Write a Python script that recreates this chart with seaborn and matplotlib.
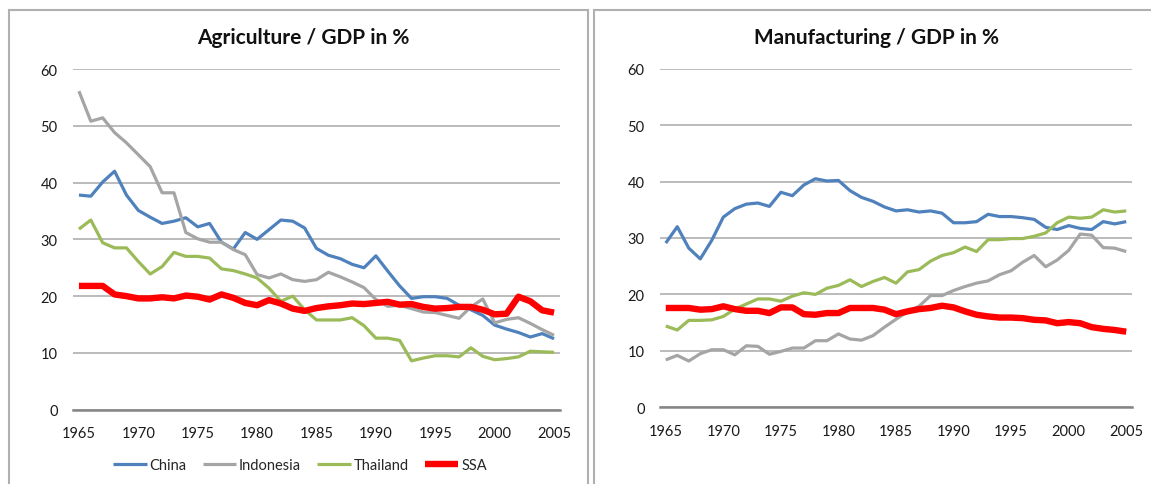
import matplotlib

matplotlib.use("Agg")
import matplotlib.pyplot as plt
import pandas as pd
import seaborn as sns
from matplotlib.patches import Rectangle

sns.set_theme(style="white")
plt.rcParams["font.family"] = ["Lato", "DejaVu Sans"]

YEARS = list(range(1965, 2006))

# Agriculture / GDP in %
AGR_CHINA = [37.8, 37.6, 40.1, 42.0, 37.8, 35.1, 33.9, 32.8, 33.2, 33.8,
             32.2, 32.8, 29.5, 28.3, 31.2, 30.0, 31.7, 33.4, 33.2, 32.0,
             28.4, 27.2, 26.6, 25.6, 25.0, 27.1, 24.4, 21.8, 19.6, 19.9,
             19.9, 19.6, 18.4, 17.6, 16.6, 14.9, 14.2, 13.6, 12.8, 13.4,
             12.5]
AGR_INDONESIA = [56.1, 50.8, 51.4, 48.8, 47.0, 44.9, 42.8, 38.2, 38.2, 31.2,
                 30.1, 29.5, 29.5, 28.2, 27.3, 23.8, 23.2, 23.9, 22.9, 22.6,
                 22.9, 24.2, 23.4, 22.5, 21.5, 19.4, 18.2, 18.4, 17.8, 17.2,
                 17.1, 16.6, 16.1, 18.1, 19.5, 15.3, 15.9, 16.2, 15.2, 14.1,
                 13.1]
AGR_THAILAND = [31.8, 33.4, 29.4, 28.5, 28.5, 26.1, 23.9, 25.2, 27.7, 27.0,
                27.0, 26.7, 24.8, 24.5, 23.9, 23.2, 21.4, 19.1, 20.0, 17.6,
                15.8, 15.8, 15.8, 16.2, 14.8, 12.6, 12.6, 12.2, 8.6, 9.1,
                9.5, 9.5, 9.3, 10.9, 9.4, 8.8, 9.0, 9.3, 10.3, 10.2,
                10.1]
AGR_SSA = [21.8, 21.8, 21.8, 20.3, 20.0, 19.6, 19.6, 19.8, 19.6, 20.1,
           19.9, 19.4, 20.3, 19.7, 18.8, 18.4, 19.3, 18.7, 17.8, 17.4,
           17.9, 18.2, 18.4, 18.7, 18.6, 18.8, 19.0, 18.5, 18.6, 18.1,
           17.8, 17.9, 18.1, 18.1, 17.6, 16.8, 16.9, 19.9, 19.1, 17.5,
           17.1]

# Manufacturing / GDP in %
MAN_CHINA = [29.1, 32.0, 28.2, 26.3, 29.6, 33.7, 35.2, 36.0, 36.2, 35.6,
             38.1, 37.5, 39.4, 40.5, 40.1, 40.2, 38.4, 37.2, 36.5, 35.5,
             34.8, 35.0, 34.6, 34.8, 34.4, 32.7, 32.7, 32.9, 34.2, 33.8,
             33.8, 33.6, 33.3, 31.9, 31.5, 32.2, 31.7, 31.5, 32.9, 32.5,
             32.9]
MAN_INDONESIA = [8.4, 9.2, 8.2, 9.5, 10.2, 10.2, 9.3, 10.9, 10.8, 9.4,
                 9.9, 10.5, 10.5, 11.8, 11.8, 13.0, 12.1, 11.9, 12.7, 14.2,
                 15.6, 16.9, 17.9, 19.8, 19.8, 20.7, 21.4, 22.0, 22.4, 23.5,
                 24.2, 25.7, 26.9, 24.9, 26.1, 27.8, 30.7, 30.5, 28.3, 28.2,
                 27.6]
MAN_THAILAND = [14.4, 13.7, 15.4, 15.4, 15.5, 16.1, 17.4, 18.3, 19.2, 19.2,
                18.8, 19.7, 20.3, 20.0, 21.1, 21.6, 22.6, 21.4, 22.3, 23.0,
                22.0, 24.0, 24.4, 25.9, 26.9, 27.4, 28.4, 27.6, 29.7, 29.7,
                29.9, 29.9, 30.3, 30.9, 32.7, 33.7, 33.5, 33.7, 35.0, 34.6,
                34.8]
MAN_SSA = [17.6, 17.6, 17.6, 17.3, 17.4, 17.9, 17.4, 17.1, 17.1, 16.7,
           17.7, 17.7, 16.5, 16.4, 16.7, 16.7, 17.6, 17.6, 17.6, 17.3,
           16.5, 17.0, 17.4, 17.6, 18.0, 17.7, 17.0, 16.4, 16.1, 15.9,
           15.9, 15.8, 15.5, 15.4, 14.9, 15.1, 14.9, 14.2, 13.9, 13.7,
           13.4]

COUNTRIES = ["China", "Indonesia", "Thailand", "SSA"]
COLORS = ["#4F81BD", "#A5A5A5", "#9BBB59", "#FF0000"]
WIDTHS = [2.3, 2.3, 2.3, 4.6]


def long_frame(series):
    rows = []
    for name, values in zip(COUNTRIES, series):
        for yr, v in zip(YEARS, values):
            rows.append({"year": yr, "value": v, "country": name})
    return pd.DataFrame(rows)


def draw_panel(ax, df):
    for name, col, lw in zip(COUNTRIES, COLORS, WIDTHS):
        sub = df[df["country"] == name]
        sns.lineplot(data=sub, x="year", y="value", ax=ax, color=col,
                     linewidth=lw, label=name, solid_capstyle="butt")
    ax.set_xlim(1964.5, 2005.5)
    ax.set_ylim(0, 60)
    ax.set_yticks(range(0, 61, 10))
    ax.set_xticks(range(1965, 2006, 5))
    ax.grid(axis="y", color="#A8A8A8", linewidth=1.1)
    ax.set_axisbelow(True)
    for side in ["left", "right", "top"]:
        ax.spines[side].set_visible(False)
    ax.spines["bottom"].set_color("#868686")
    ax.spines["bottom"].set_linewidth(1.8)
    ax.tick_params(axis="both", length=0, labelsize=10.5, colors="#1a1a1a")
    ax.tick_params(axis="y", pad=11)
    ax.tick_params(axis="x", pad=12)
    ax.set_xlabel("")
    ax.set_ylabel("")


fig = plt.figure(figsize=(11.51, 4.85), dpi=100)

# rahmen um die beiden charts
fig.patches.append(Rectangle((9 / 1151, -0.05), 579 / 1151, 1.05 - 11 / 485,
                             transform=fig.transFigure, fill=False,
                             edgecolor="#B0B0B0", linewidth=1.5))
fig.patches.append(Rectangle((594 / 1151, -0.05), 600 / 1151, 1.05 - 11 / 485,
                             transform=fig.transFigure, fill=False,
                             edgecolor="#B0B0B0", linewidth=1.5))

ax1 = fig.add_axes([73 / 1151, 74.3 / 485, 487 / 1151, 340.7 / 485])
ax2 = fig.add_axes([660 / 1151, 76.7 / 485, 472 / 1151, 338.6 / 485])

draw_panel(ax1, long_frame([AGR_CHINA, AGR_INDONESIA, AGR_THAILAND, AGR_SSA]))
draw_panel(ax2, long_frame([MAN_CHINA, MAN_INDONESIA, MAN_THAILAND, MAN_SSA]))

fig.text(303 / 1151, 1 - 38 / 485, "Agriculture / GDP in %", ha="center",
         va="center", fontsize=15, fontweight="bold", color="#111111")
fig.text(877 / 1151, 1 - 38 / 485, "Manufacturing / GDP in %", ha="center",
         va="center", fontsize=15, fontweight="bold", color="#111111")

ax2.get_legend().remove()
handles, labels = ax1.get_legend_handles_labels()
ax1.get_legend().remove()
fig.legend(handles, labels, loc="center", bbox_to_anchor=(300 / 1151, 19 / 485),
           ncol=4, frameon=False, fontsize=10.5, handlelength=2.3,
           handletextpad=0.2, columnspacing=1.1)

fig.savefig("out.png", dpi=100)
plt.close(fig)
